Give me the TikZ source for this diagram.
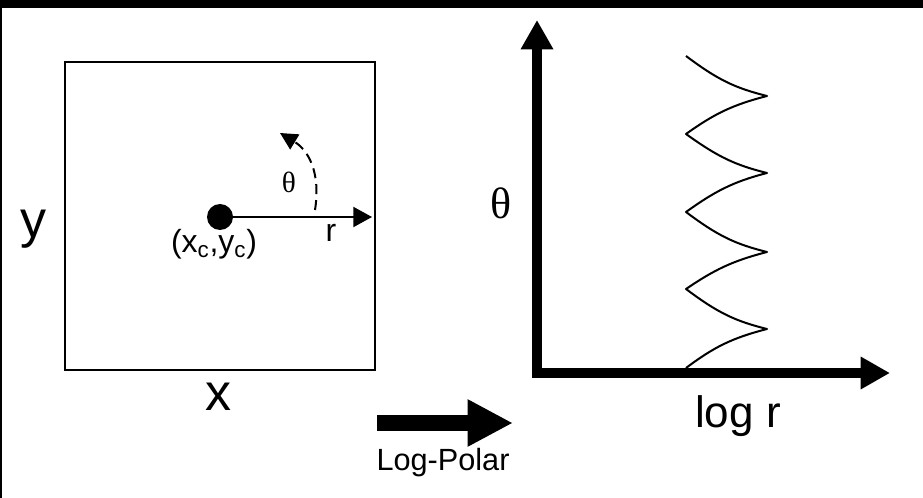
\documentclass[tikz,border=0pt]{standalone}
\usepackage{fontspec}
\setmainfont{Liberation Sans}
\newfontfamily\grserif{Liberation Serif}
\usetikzlibrary{arrows.meta}
\tikzset{
  lbl/.style={inner sep=0pt, outer sep=0pt, text=black},
  thin line/.style={line width=1.5pt, black},
  axis/.style={line width=7.5pt, black, -{Triangle[length=22pt, width=23pt]}},
}
\begin{document}
\begin{tikzpicture}[x=0.75pt, y=-0.75pt]
\useasboundingbox (0,0) rectangle (923,498);
\fill[white] (0,0) rectangle (923,498);
% frame strips
\fill[black] (0,0) rectangle (923,8);
\fill[black] (0,0) rectangle (2,498);
% left square
\draw[thin line] (65,62) rectangle (375,370);
\node[lbl, anchor=base, font=\fontsize{39}{40}\selectfont] (ylab) at (34,238) {y};
\node[lbl, anchor=base, font=\fontsize{39}{40}\selectfont] (xlab) at (218,410) {x};
% centre point and radius
\node[circle, fill=black, minimum size=19.5pt, inner sep=0pt] (dot) at (220,217) {};
\coordinate (rtip) at (372,217);
\draw[thin line, -{Triangle[length=14pt, width=15pt]}] (dot.center) -- (rtip);
\node[lbl, anchor=base, font=\fontsize{24}{26}\selectfont] (rlab) at (331,242) {r};
\node[lbl, anchor=base, font=\fontsize{24}{26}\selectfont] (clab) at (214,253) {(x\textsubscript{c},y\textsubscript{c})};
% dashed angle arrow
\coordinate (arcstart) at (315,210);
\coordinate (arcend) at (280,133);
\draw[thin line, dash pattern=on 7.5pt off 4.5pt, -{Triangle[length=13pt, width=13pt]}]
  (arcstart) .. controls (321,172) and (308,150) .. (arcend);
\node[lbl, font=\grserif\fontsize{22}{24}\selectfont] (thl) at (289,182) {θ};
% transform arrow
\coordinate (ta) at (377,423);
\coordinate (tb) at (513,423);
\draw[line width=12pt, -{Triangle[length=34pt, width=33pt]}] (ta) -- (tb);
\node[lbl, anchor=base, font=\fontsize{23}{24}\selectfont] (lp) at (443,470) {Log-Polar};
% axes
\coordinate (origin) at (537,373);
\coordinate (ytip) at (537,20);
\coordinate (xtip) at (890,373);
\draw[axis] ([yshift=-3.75pt]origin) -- (ytip);
\draw[axis] ([xshift=-3.75pt]origin) -- (xtip);
\node[lbl, font=\grserif\fontsize{33}{36}\selectfont] (thr) at (501,203) {θ};
\node[lbl, anchor=base, font=\fontsize{33}{36}\selectfont] (logr) at (738,427) {log r};
% signal curve
\draw[thin line, line join=round]
  (686,56) .. controls (718,80) and (735,88) .. (767,96)
  .. controls (732,105) and (714,114) .. (686,134)
  .. controls (718,157) and (735,165) .. (767,173)
  .. controls (732,182) and (714,192) .. (686,212)
  .. controls (718,236) and (735,244) .. (767,252)
  .. controls (732,261) and (714,270) .. (686,289)
  .. controls (718,313) and (735,321) .. (767,329)
  .. controls (732,338) and (714,347) .. (686,368);
\end{tikzpicture}
\end{document}
